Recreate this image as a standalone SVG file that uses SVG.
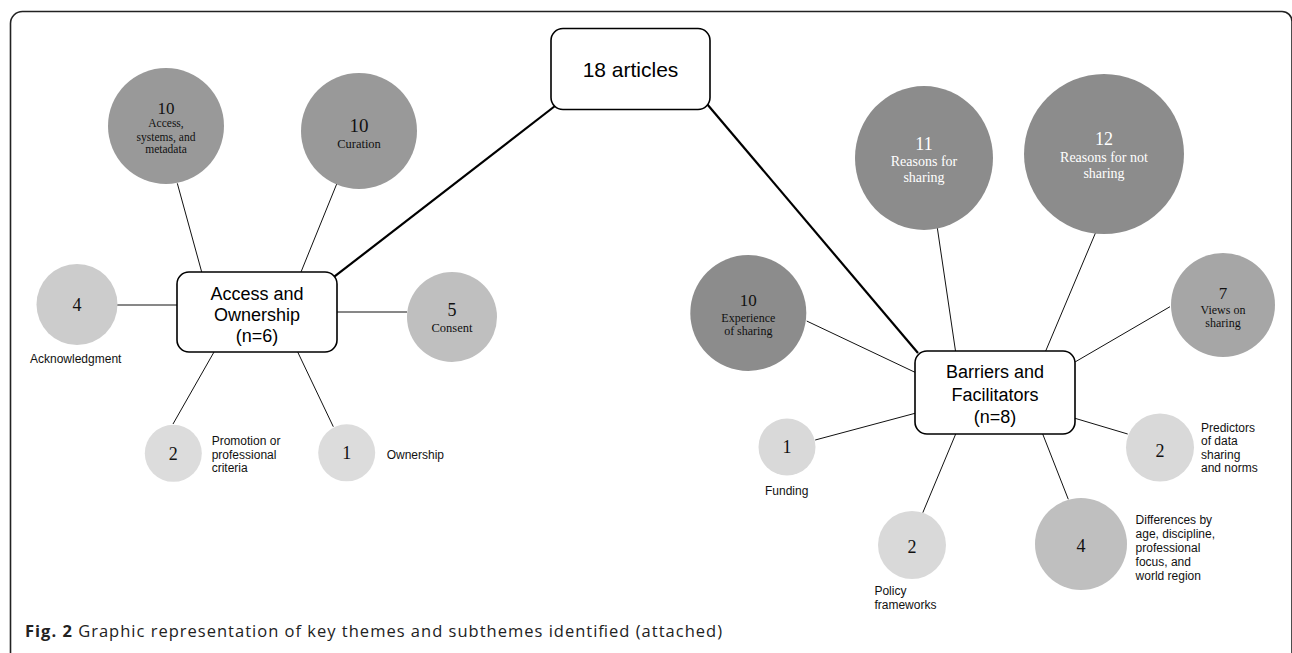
<svg xmlns="http://www.w3.org/2000/svg" width="1292" height="653" viewBox="0 0 1292 653">
<style>
.frame{fill:none;stroke:#222;stroke-width:1.6}
.thin{stroke:#111;stroke-width:1;fill:none}
.thick{stroke:#000;stroke-width:2.2;fill:none}
.box{fill:#fff;stroke:#000;stroke-width:1.6}
.bt{font-family:"Liberation Sans",Arial,sans-serif;font-size:18px;fill:#000;text-anchor:middle}
.num{font-family:"Liberation Serif","Times New Roman",serif;font-size:18px;fill:#111;text-anchor:middle}
.cl{font-family:"Liberation Serif","Times New Roman",serif;font-size:12px;fill:#111;text-anchor:middle}
.wl{fill:#fff}
.lab{font-family:"Liberation Sans",Arial,sans-serif;font-size:12px;fill:#111}
.cap{font-family:"Open Sans","Noto Sans",sans-serif;font-size:16.5px;fill:#222}
</style>
<path class="frame" d="M10.5,653 V23.5 A12,12 0 0 1 22.5,11.5 H1282 A10,10 0 0 1 1292,21.5 V653"/>
<g id="connectors">
<line class="thick" x1="334.3" y1="276.7" x2="555" y2="106"/>
<line class="thick" x1="707" y1="104" x2="918" y2="353"/>
<line class="thin" x1="177.3" y1="183.3" x2="201.7" y2="272"/>
<line class="thin" x1="336.7" y1="184" x2="301" y2="272"/>
<line class="thin" x1="117" y1="305" x2="177" y2="305"/>
<line class="thin" x1="337" y1="312" x2="407" y2="312"/>
<line class="thin" x1="214" y1="352" x2="173" y2="424"/>
<line class="thin" x1="297.7" y1="352" x2="333.3" y2="426.7"/>
<line class="thin" x1="937.3" y1="227.7" x2="955.5" y2="351"/>
<line class="thin" x1="1097" y1="229.3" x2="1045.7" y2="351"/>
<line class="thin" x1="1170" y1="306.7" x2="1075" y2="362"/>
<line class="thin" x1="806.7" y1="321" x2="915" y2="372.3"/>
<line class="thin" x1="815.2" y1="440" x2="915" y2="413.3"/>
<line class="thin" x1="922.8" y1="512.7" x2="955.7" y2="434"/>
<line class="thin" x1="1068.3" y1="499.3" x2="1042.7" y2="434"/>
<line class="thin" x1="1075" y1="418.3" x2="1127.7" y2="434"/>
</g>
<g id="root">
<rect class="box" x="551" y="28.5" width="159" height="81" rx="12"/>
<text class="bt" x="630.5" y="77" style="font-size:21px">18 articles</text>
</g>
<g id="access-ownership">
<rect class="box" x="177" y="272" width="160" height="80" rx="12"/>
<text class="bt" x="257" y="299.5">Access and</text>
<text class="bt" x="257" y="320.5">Ownership</text>
<text class="bt" x="257" y="341.5">(n=6)</text>
</g>
<g id="barriers-facilitators">
<rect class="box" x="915" y="351" width="160" height="83" rx="12"/>
<text class="bt" x="995" y="378">Barriers and</text>
<text class="bt" x="995" y="400.5">Facilitators</text>
<text class="bt" x="995" y="422.5">(n=8)</text>
</g>
<g id="access-systems">
<circle cx="166" cy="126" r="58" fill="#999"/>
<text class="num" x="166" y="114" style="font-size:17px">10</text>
<text class="cl" x="166" y="127" style="font-size:11.5px">Access,</text>
<text class="cl" x="166" y="140.5" style="font-size:11.5px">systems, and</text>
<text class="cl" x="166" y="153" style="font-size:11.5px">metadata</text>
</g>
<g id="curation">
<circle cx="359" cy="131" r="58" fill="#999"/>
<text class="num" x="359" y="131.5" style="font-size:19px">10</text>
<text class="cl" x="359" y="147.5" style="font-size:12.5px">Curation</text>
</g>
<g id="acknowledgment">
<circle cx="77" cy="304.5" r="40.5" fill="#ccc"/>
<text class="num" x="77" y="311">4</text>
<text class="lab" x="30" y="363">Acknowledgment</text>
</g>
<g id="consent">
<circle cx="452" cy="317" r="45" fill="#bfbfbf"/>
<text class="num" x="452" y="316">5</text>
<text class="cl" x="452" y="332" style="font-size:12.5px">Consent</text>
</g>
<g id="promotion">
<circle cx="173.3" cy="453.3" r="28.5" fill="#dcdcdc"/>
<text class="num" x="173.3" y="459.5">2</text>
<text class="lab" x="211.7" y="444.5">Promotion or</text>
<text class="lab" x="211.7" y="458.5">professional</text>
<text class="lab" x="211.7" y="472">criteria</text>
</g>
<g id="ownership">
<circle cx="346.7" cy="452.8" r="28.5" fill="#dcdcdc"/>
<text class="num" x="346.7" y="459">1</text>
<text class="lab" x="386.7" y="458.5">Ownership</text>
</g>
<g id="reasons-sharing">
<ellipse cx="924" cy="158" rx="69" ry="72" fill="#8c8c8c"/>
<text class="num wl" x="924" y="149.5">11</text>
<text class="cl wl" x="924" y="166" style="font-size:14px">Reasons for</text>
<text class="cl wl" x="924" y="181.5" style="font-size:14px">sharing</text>
</g>
<g id="reasons-not-sharing">
<circle cx="1104" cy="154" r="80" fill="#8c8c8c"/>
<text class="num wl" x="1104" y="145">12</text>
<text class="cl wl" x="1104" y="161.5" style="font-size:14px">Reasons for not</text>
<text class="cl wl" x="1104" y="177.5" style="font-size:14px">sharing</text>
</g>
<g id="experience">
<circle cx="748.3" cy="313" r="58" fill="#8c8c8c"/>
<text class="num" x="748.3" y="306" style="font-size:17px">10</text>
<text class="cl" x="748.3" y="322">Experience</text>
<text class="cl" x="748.3" y="335">of sharing</text>
</g>
<g id="views">
<circle cx="1223" cy="305" r="52" fill="#a6a6a6"/>
<text class="num" x="1223" y="299" style="font-size:17px">7</text>
<text class="cl" x="1223" y="313.5">Views on</text>
<text class="cl" x="1223" y="327">sharing</text>
</g>
<g id="funding">
<circle cx="787" cy="447" r="28.5" fill="#d9d9d9"/>
<text class="num" x="787" y="453">1</text>
<text class="lab" x="765" y="495">Funding</text>
</g>
<g id="policy">
<circle cx="912" cy="545" r="34" fill="#d9d9d9"/>
<text class="num" x="912" y="553">2</text>
<text class="lab" x="874.4" y="595">Policy</text>
<text class="lab" x="874.4" y="608.5">frameworks</text>
</g>
<g id="differences">
<circle cx="1081" cy="544" r="46" fill="#bfbfbf"/>
<text class="num" x="1081" y="552">4</text>
<text class="lab" x="1135.6" y="523.5">Differences by</text>
<text class="lab" x="1135.6" y="537.5">age, discipline,</text>
<text class="lab" x="1135.6" y="551.5">professional</text>
<text class="lab" x="1135.6" y="565.5">focus, and</text>
<text class="lab" x="1135.6" y="579.5">world region</text>
</g>
<g id="predictors">
<circle cx="1160" cy="447.5" r="34" fill="#d9d9d9"/>
<text class="num" x="1160" y="457">2</text>
<text class="lab" x="1201" y="431.5">Predictors</text>
<text class="lab" x="1201" y="444.5">of data</text>
<text class="lab" x="1201" y="458.5">sharing</text>
<text class="lab" x="1201" y="471.5">and norms</text>
</g>
<text class="cap" x="25" y="637" textLength="697" lengthAdjust="spacing"><tspan font-weight="bold">Fig. 2</tspan> Graphic representation of key themes and subthemes identified (attached)</text>
</svg>
